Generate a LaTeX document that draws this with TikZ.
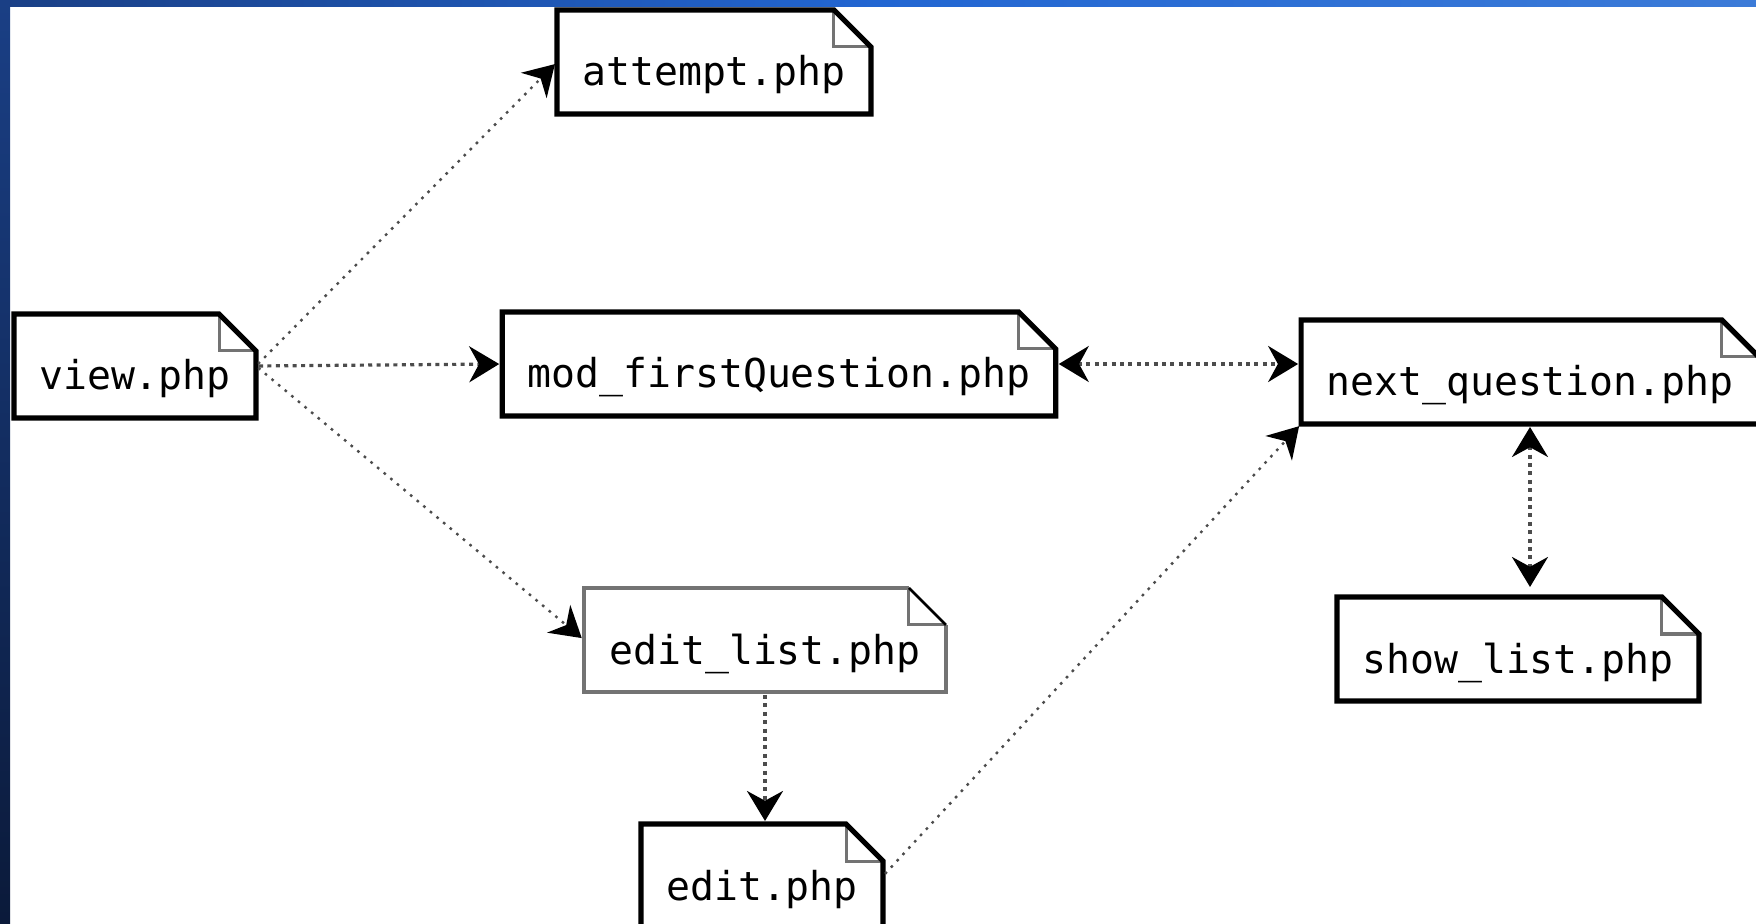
\documentclass[tikz,border=0pt]{standalone}
\usepackage{fontspec}
\setmonofont{DejaVu Sans Mono}
\usepackage{tikz}
\usetikzlibrary{arrows.meta}

\definecolor{barlight}{HTML}{3C7BD8}
\definecolor{barmid}{HTML}{2266D2}
\definecolor{bardark}{HTML}{1A3F85}
\definecolor{barbottom}{HTML}{0B1A3A}

\begin{document}
\begin{tikzpicture}[x=0.5pt, y=-0.5pt,
    phpfile/.style={font=\ttfamily\fontsize{19.9}{24}\selectfont,
      minimum height=52pt, inner xsep=12.6pt, inner ysep=2pt,
      text height=29pt, text depth=5pt, outer sep=0pt},
    rim/.style={line width=2.6pt, line join=miter},
    crease/.style={line width=1.5pt, black!55},
    link/.style={black!70, line width=1.6pt, dash pattern=on 2pt off 2.2pt,
      shorten <=1.5pt, shorten >=1.5pt,
      -{Stealth[length=15pt, width=18pt, color=black]}},
    slant/.style={link, line width=1.2pt, dash pattern=on 1.3pt off 3pt}]
        \useasboundingbox (0,0) rectangle (1756,924);
        \clip (0,0) rectangle (1756,924);

        \node[phpfile] (view) at (135,366) {view.php};
        \node[phpfile] (attempt) at (714,62) {attempt.php};
        \node[phpfile] (modfirst) at (779,364) {mod\_firstQuestion.php};
        \node[phpfile] (nextq) at (1530,372) {next\_question.php};
        \node[phpfile] (showlist) at (1518,649) {show\_list.php};
        \node[phpfile] (editlist) at (765,640) {edit\_list.php};
        \node[phpfile] (edit) at (762,876) {edit.php};

        % dog-ears first, outlines on top
        \foreach \n in {view,attempt,modfirst,nextq,showlist,editlist,edit}
          \draw[crease] ([xshift=-18.5pt]\n.north east) |- ([yshift=-18.5pt]\n.north east);
        \foreach \n in {view,attempt,modfirst,nextq,showlist,edit}
          \draw[rim] (\n.north west) -- ([xshift=-18.5pt]\n.north east)
            -- ([yshift=-18.5pt]\n.north east) -- (\n.south east)
            -- (\n.south west) -- cycle;
        \draw[rim, line width=1.8pt, black!55] ([yshift=-18.5pt]editlist.north east)
          -- (editlist.south east) -- (editlist.south west)
          -- (editlist.north west) -- ([xshift=-18.5pt]editlist.north east);
        \draw[line width=1.3pt] ([xshift=-18.5pt]editlist.north east)
          -- ([yshift=-18.5pt]editlist.north east);

        \draw[slant] (view.east) -- (attempt.west);
        \draw[link] (view.east) -- (modfirst.west);
        \draw[slant] (view.east) -- (editlist.west);
        \draw[link] (editlist.south) -- (editlist.south |- edit.north);
        \draw[slant] (edit.east) -- (nextq.south west);
        \draw[link, {Stealth[length=15pt, width=18pt, color=black]}-{Stealth[length=15pt, width=18pt, color=black]}]
          (modfirst.east) -- (modfirst.east -| nextq.west);
        \draw[link, shorten >=5pt, {Stealth[length=15pt, width=18pt, color=black]}-{Stealth[length=15pt, width=18pt, color=black]}]
          (nextq.south) -- (nextq.south |- showlist.north);

        % slide frame
        \shade[left color=bardark, right color=barlight, middle color=barmid]
          (0,0) rectangle (1756,7);
        \shade[top color=bardark, bottom color=barbottom] (0,0) rectangle (10,924);
      \end{tikzpicture}
\end{document}
